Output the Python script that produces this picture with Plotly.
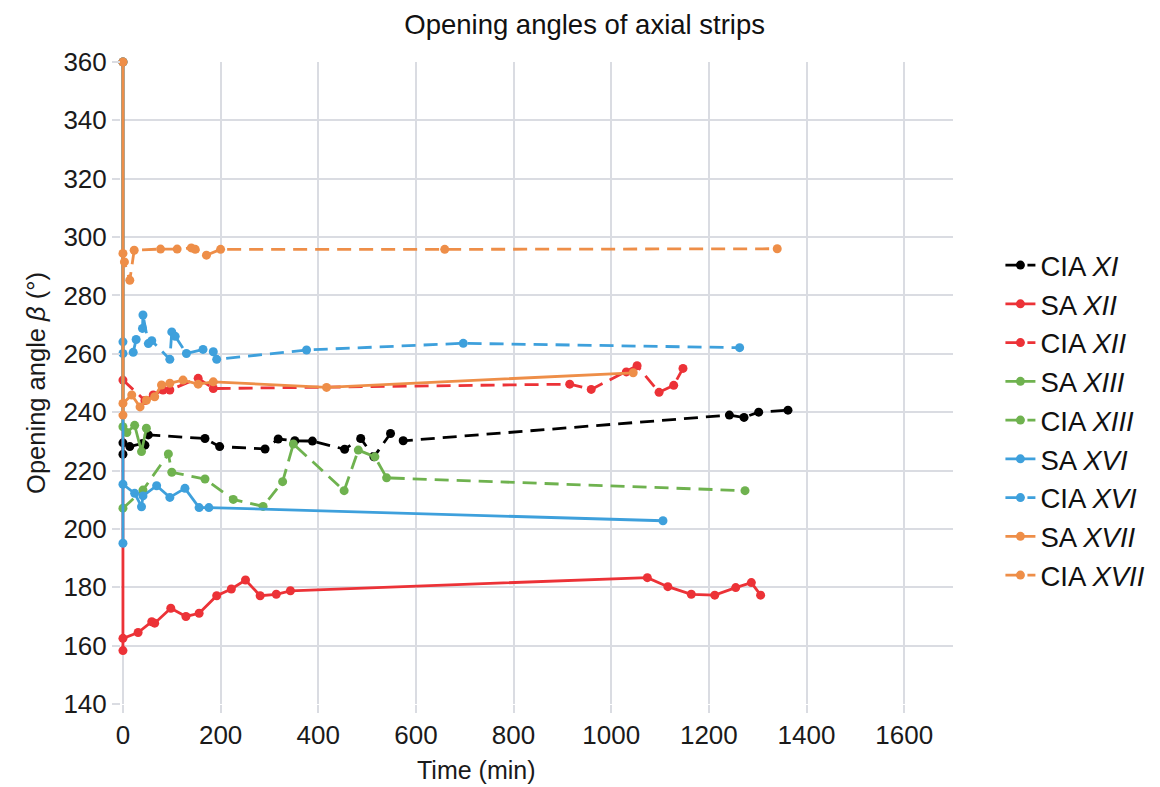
import plotly.graph_objects as go

# Time (min) and opening angle beta (deg) for each strip
cia_xi_t = [0, 0, 14, 40, 45, 52, 168, 198, 291, 318, 352, 388, 454, 487, 514, 548, 574, 1242, 1272, 1302, 1362]
cia_xi_v = [225.6, 229.5, 228.2, 229.3, 228.7, 232.2, 231.0, 228.2, 227.4, 230.8, 230.2, 230.1, 227.3, 231.0,
            224.7, 232.7, 230.2, 239.0, 238.2, 240.0, 240.7]

sa_xii_t = [0, 0, 0, 31, 59, 65, 98, 129, 156, 192, 222, 251, 281, 314, 343, 1074, 1116, 1164, 1212, 1255, 1287, 1306]
sa_xii_v = [360, 158.3, 162.5, 164.5, 168.2, 167.7, 172.8, 170.0, 171.1, 177.1, 179.4, 182.5, 177.1, 177.6, 178.8,
            183.3, 180.2, 177.6, 177.3, 179.9, 181.6, 177.3]

cia_xii_t = [0, 45, 62, 82, 96, 154, 185, 915, 959, 1031, 1053, 1098, 1128, 1147]
cia_xii_v = [251.0, 244.0, 245.9, 247.6, 247.6, 251.6, 248.1, 249.6, 247.8, 253.8, 255.9, 246.8, 249.2, 255.0]

sa_xiii_t = [0, 0, 8, 24, 38, 48]
sa_xiii_v = [360, 235.0, 233.0, 235.5, 226.5, 234.5]

cia_xiii_t = [0, 41, 93, 100, 168, 226, 287, 327, 349, 453, 482, 516, 540, 1274]
cia_xiii_v = [207.1, 213.3, 225.7, 219.4, 217.1, 210.1, 207.7, 216.2, 229.1, 213.1, 227.0, 224.7, 217.5, 213.1]

sa_xvi_t = [0, 0, 0, 24, 38, 41, 69, 96, 127, 156, 176, 1106]
sa_xvi_v = [360, 195.1, 215.3, 212.2, 207.6, 211.3, 214.8, 210.8, 213.9, 207.3, 207.3, 202.8]

cia_xvi_t = [0, 0, 21, 27, 40, 41, 52, 59, 96, 100, 107, 130, 164, 185, 192, 376, 697, 1263]
cia_xvi_v = [264.1, 260.1, 260.5, 264.9, 268.7, 273.3, 263.5, 264.5, 258.1, 267.5, 266.0, 260.1, 261.5, 260.7,
             258.1, 261.3, 263.6, 262.1]

sa_xvii_t = [0, 0, 0, 18, 35, 48, 65, 79, 96, 123, 154, 185, 417, 1045]
sa_xvii_v = [360, 239.0, 243.0, 245.9, 241.8, 244.1, 245.3, 249.3, 249.9, 251.0, 249.6, 250.4, 248.5, 253.5]

cia_xvii_t = [0, 3, 14, 23, 77, 111, 140, 148, 171, 200, 659, 1340]
cia_xvii_v = [294.4, 291.5, 285.2, 295.5, 295.9, 295.9, 296.3, 295.8, 293.8, 295.8, 295.8, 296.0]

BLACK = "#000000"
RED = "#EC3237"
GREEN = "#6FB24F"
BLUE = "#3EA0DC"
ORANGE = "#EE8E48"
DASH = "14px,8px"

series = [
    ("CIA <i>XI</i>", cia_xi_t, cia_xi_v, BLACK, DASH),
    ("SA <i>XII</i>", sa_xii_t, sa_xii_v, RED, "solid"),
    ("CIA <i>XII</i>", cia_xii_t, cia_xii_v, RED, DASH),
    ("SA <i>XIII</i>", sa_xiii_t, sa_xiii_v, GREEN, "solid"),
    ("CIA <i>XIII</i>", cia_xiii_t, cia_xiii_v, GREEN, DASH),
    ("SA <i>XVI</i>", sa_xvi_t, sa_xvi_v, BLUE, "solid"),
    ("CIA <i>XVI</i>", cia_xvi_t, cia_xvi_v, BLUE, DASH),
    ("SA <i>XVII</i>", sa_xvii_t, sa_xvii_v, ORANGE, "solid"),
    ("CIA <i>XVII</i>", cia_xvii_t, cia_xvii_v, ORANGE, DASH),
]

FONT = "Liberation Sans, Arial, sans-serif"
GRID = "#DADCE2"

fig = go.Figure()
for name, t, v, color, dash in series:
    fig.add_trace(go.Scatter(
        x=t, y=v, name=name, mode="lines+markers", cliponaxis=False,
        line=dict(color=color, width=2.8, dash=dash),
        marker=dict(color=color, size=9),
    ))

fig.update_layout(
    width=1160, height=787, autosize=False,
    paper_bgcolor="white", plot_bgcolor="white",
    margin=dict(l=121, r=207, t=62, b=83, autoexpand=False),
    font=dict(family=FONT, size=26, color="#1a1a1a"),
    title=dict(text="Opening angles of axial strips", x=0.504, xref="container", xanchor="center",
               y=0.969, yref="container", yanchor="middle",
               font=dict(family=FONT, size=27.5, color="#111111")),
    legend=dict(x=1.057, xanchor="left", y=0.442, yanchor="middle",
                font=dict(family=FONT, size=27.5, color="#111111"),
                bgcolor="rgba(0,0,0,0)", tracegroupgap=0),
    showlegend=True,
)

# x-axis title sits left of the plot centre
fig.add_annotation(text="Time (min)", xref="paper", yref="paper", x=0.4267, y=-0.103,
                   xanchor="center", yanchor="middle", showarrow=False,
                   font=dict(family=FONT, size=25, color="#1a1a1a"))

fig.update_xaxes(
    range=[-4, 1700], tickvals=[0, 200, 400, 600, 800, 1000, 1200, 1400, 1600],
    showgrid=True, gridcolor=GRID, gridwidth=1.5, zeroline=False,
    showline=False, ticks="outside", ticklen=8, tickcolor=GRID, tickwidth=1.5,
    tickfont=dict(size=26),
)
fig.update_yaxes(
    range=[140, 360], tickvals=list(range(140, 361, 20)),
    showgrid=True, gridcolor=GRID, gridwidth=1.5, zeroline=False,
    showline=False, ticks="outside", ticklen=8, tickcolor=GRID, tickwidth=1.5,
    title=dict(text="Opening angle <i>β</i> (°)", font=dict(size=25.5), standoff=10),
    tickfont=dict(size=26),
)

fig.write_html("out.html")
